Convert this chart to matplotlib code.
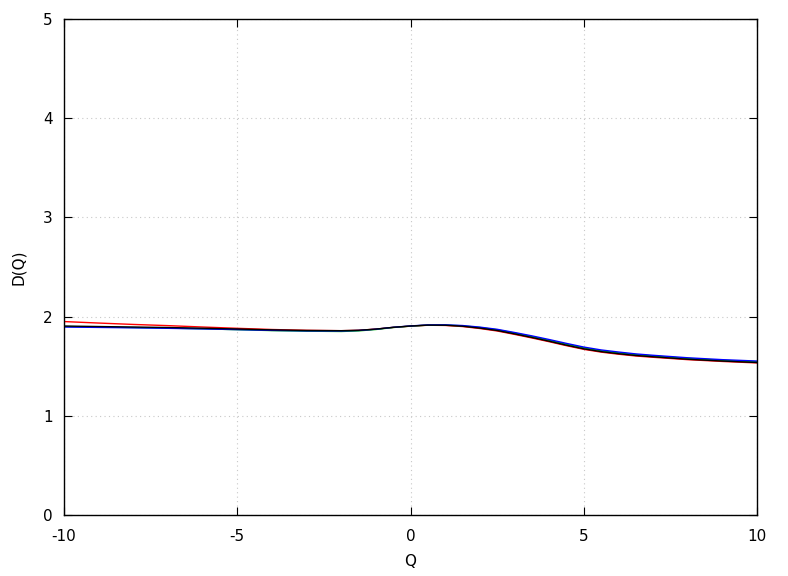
import numpy as np
import matplotlib
matplotlib.use('Agg')
import matplotlib.pyplot as plt

plt.rcParams['axes.unicode_minus'] = False

# valores
q = [-10, -9, -8, -7, -6, -5, -4, -3, -2, -1.5, -1, -0.5, 0, 0.5, 1, 1.5, 2, 2.5, 3, 3.5, 4, 4.5, 5, 5.5, 6, 6.5, 7, 8, 9, 10]

d_negro = [1.905, 1.900, 1.895, 1.890, 1.883, 1.875, 1.866, 1.860, 1.858, 1.862, 1.874, 1.892, 1.905, 1.914, 1.913, 1.903, 1.884, 1.860, 1.826, 1.790, 1.752, 1.712, 1.675, 1.647, 1.626, 1.608, 1.595, 1.570, 1.552, 1.537]
d_rojo  = [1.950, 1.935, 1.921, 1.909, 1.895, 1.882, 1.870, 1.862, 1.858, 1.862, 1.874, 1.891, 1.904, 1.913, 1.911, 1.900, 1.880, 1.855, 1.821, 1.785, 1.747, 1.707, 1.670, 1.642, 1.621, 1.603, 1.590, 1.566, 1.548, 1.533]
d_verde = [1.900, 1.895, 1.890, 1.884, 1.877, 1.868, 1.859, 1.853, 1.850, 1.856, 1.870, 1.890, 1.904, 1.914, 1.915, 1.907, 1.890, 1.867, 1.834, 1.799, 1.761, 1.722, 1.685, 1.656, 1.635, 1.617, 1.603, 1.578, 1.559, 1.545]
d_azul  = [1.895, 1.891, 1.887, 1.882, 1.876, 1.869, 1.861, 1.856, 1.855, 1.860, 1.873, 1.892, 1.906, 1.916, 1.917, 1.910, 1.894, 1.872, 1.840, 1.806, 1.769, 1.730, 1.693, 1.664, 1.643, 1.624, 1.610, 1.585, 1.566, 1.552]

xticks = [-10, -5, 0, 5, 10]
yticks = [0, 1, 2, 3, 4, 5]

fig = plt.figure(figsize=(7.88, 5.76), dpi=100)
ax = fig.add_axes([0.0812, 0.1059, 0.8795, 0.8611])

ax.plot(q, d_rojo, color='#ff0000', lw=1)
ax.plot(q, d_verde, color='#00c000', lw=1)
ax.plot(q, d_azul, color='#0000ff', lw=1)
ax.plot(q, d_negro, color='black', lw=1)

ax.set_xlim(-10, 10)
ax.set_ylim(0, 5)
ax.set_xticks(xticks)
ax.set_yticks(yticks)
ax.grid(True, color='#c8c8c8', linestyle=(0, (1, 3)), lw=0.8)
ax.tick_params(direction='in', top=True, right=True, length=6, labelsize=11, pad=10)
ax.tick_params(axis='y', pad=8)
for s in ax.spines.values():
    s.set_linewidth(1)
ax.set_xlabel('Q', fontsize=11, labelpad=7)
ax.set_ylabel('D(Q)', fontsize=11, labelpad=12)

fig.savefig('out.png', dpi=100)
